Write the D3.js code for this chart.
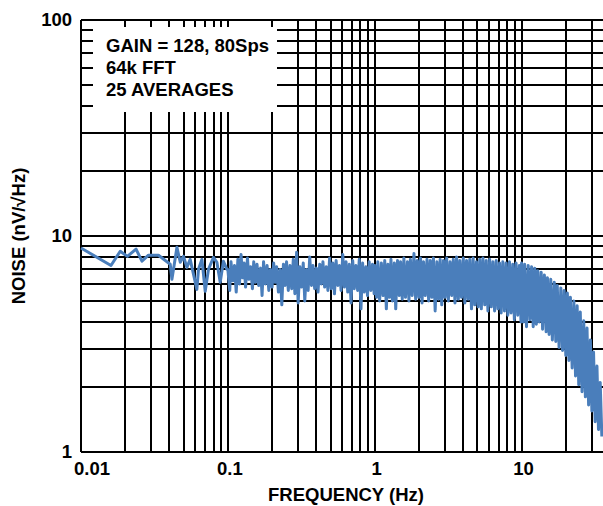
<!DOCTYPE html>
<html><head><meta charset="utf-8">
<script src="https://cdn.jsdelivr.net/npm/d3@7"></script>
<style>
body{margin:0;background:#fff}
svg text{font-family:"Liberation Sans",Arial,Helvetica,sans-serif;font-weight:bold;fill:#000}
</style>
</head><body>
<svg id="chart" width="603" height="506"></svg>
<script>
// ---- data ----
const xTickValues = [0.01,0.02,0.03,0.04,0.05,0.06,0.07,0.08,0.09,
                     0.1,0.2,0.3,0.4,0.5,0.6,0.7,0.8,0.9,
                     1,2,3,4,5,6,7,8,9,10,20,30];
const xLabelValues = [0.01,0.1,1,10];
const yTickValues = [1,2,3,4,5,6,7,8,9,10,20,30,40,50,60,70,80,90,100];
const yLabelValues = [1,10,100];
const legendLines = ["GAIN = 128, 80Sps","64k FFT","25 AVERAGES"];
const xTitle = "FREQUENCY (Hz)";
const yTitle = "NOISE (nV/\u221AHz)";

// sparse low-frequency part (Hz, nV/√Hz)
const lowFreqHz = [0.0100,0.0160,0.0185,0.0207,0.0237,0.0260,0.0288,0.0337,0.0405,0.0416,
                   0.0450,0.0474,0.0499,0.0526,0.0554,0.0615,0.0631,0.0666,0.0701,0.0738,
                   0.0798,0.0842,0.0887,0.0933,0.0985];
const lowNoise  = [8.8,7.3,8.5,8.05,8.7,7.65,8.15,8.15,7.4,6.3,
                   8.86,7.56,8.05,7.16,7.8,5.66,7.01,7.8,5.55,7.01,
                   7.97,7.56,6.1,7.64,7.01];

// frequency steps within a decade (mantissa)
const freqSteps = [1.00,1.03,1.05,1.08,1.11,1.14,1.17,1.20,1.23,1.26,1.29,1.32,1.36,1.39,1.43,
  1.47,1.50,1.54,1.58,1.62,1.67,1.71,1.75,1.80,1.85,1.90,1.95,2.00,2.05,2.10,2.15,2.21,2.27,
  2.33,2.39,2.45,2.51,2.58,2.65,2.72,2.79,2.86,2.94,3.01,3.09,3.17,3.26,3.34,3.43,3.52,3.61,
  3.71,3.80,3.90,4.01,4.11,4.22,4.33,4.44,4.56,4.68,4.80,4.93,5.06,5.19,5.32,5.46,5.61,5.75,
  5.90,6.06,6.22,6.38,6.55,6.72,6.90,7.08,7.26,7.45,7.65,7.85,8.06,8.27,8.48,8.71,8.93,9.17,
  9.41,9.66,9.91];

// 0.1 – 1 Hz
const noiseDecade01 = [
  7.0,5.6,7.6,6.2,7.3,5.5,7.8,6.0,8.2,6.4,
  7.5,5.8,7.9,6.3,7.2,5.7,7.6,6.1,7.4,5.9,
  7.1,5.3,7.6,6.0,7.3,5.6,7.0,5.8,7.5,6.1,
  7.2,5.5,7.0,4.8,7.4,5.9,7.6,5.6,7.3,5.7,
  7.8,5.4,8.4,4.9,7.2,5.8,7.5,5.0,7.0,5.6,
  8.0,5.9,7.3,5.7,7.1,5.5,7.4,6.0,7.6,5.8,
  7.2,5.6,7.9,5.7,7.5,5.4,7.7,5.9,7.3,5.6,
  8.2,5.8,7.6,5.5,7.4,4.9,7.7,5.7,7.3,5.6,
  7.8,4.6,7.5,5.5,7.2,5.3,7.6,5.6,7.4,5.4];
// 1 – 10 Hz
const noiseDecade1 = [
  7.3,5.2,7.6,5.0,7.5,5.3,7.7,4.6,7.4,5.2,
  7.8,5.0,7.5,4.6,7.7,5.3,7.6,5.1,7.9,5.2,
  7.6,5.0,7.8,5.3,8.3,5.1,7.7,5.2,7.9,4.9,
  7.6,5.3,7.8,5.0,7.7,5.2,7.9,4.5,7.6,5.1,
  7.8,4.8,7.7,5.2,7.9,5.0,7.6,5.3,7.8,4.9,
  8.0,5.1,7.7,5.2,7.9,4.9,7.7,5.1,7.8,4.6,
  7.9,4.8,7.6,4.7,7.8,4.6,7.9,4.8,7.7,4.5,
  7.8,4.7,7.6,4.5,7.7,4.6,7.5,4.4,7.6,4.5,
  7.5,4.3,7.6,4.4,7.4,4.1,7.5,4.3,7.3,4.0];
// 10 – 35 Hz
const noiseDecade10 = [
  7.5,4.0,7.4,3.8,7.3,4.1,7.2,3.8,7.1,3.9,
  6.9,4.0,6.8,3.7,6.6,3.6,6.4,3.5,6.3,3.3,
  6.1,3.25,5.9,3.05,5.75,2.95,5.6,2.8,5.45,2.65,
  5.2,2.45,5.0,2.25,4.75,2.05,4.45,1.9,4.05,1.8,
  3.75,1.65,3.3,1.55,2.9,1.38,2.5,1.27,2.1,1.18];

const series = [];
lowFreqHz.forEach((f,i)=>series.push([f, lowNoise[i]]));
noiseDecade01.forEach((v,i)=>series.push([0.1*freqSteps[i], v]));
noiseDecade1.forEach((v,i)=>series.push([1*freqSteps[i], v]));
noiseDecade10.forEach((v,i)=>series.push([10*freqSteps[i], v]));

// ---- chart ----
const svg = d3.select("#chart");
svg.append("rect").attr("width",603).attr("height",506).attr("fill","#fff");
const plotL = 81, plotR = 610, plotT = 20, plotB = 452;
const x = d3.scaleLog().domain([0.01,40]).range([plotL,plotR]);
const y = d3.scaleLog().domain([1,100]).range([plotB,plotT]);
const fmt = d3.format("~g");
const FS = "18.5px";

const gx = svg.append("g").attr("transform",`translate(0,${plotB})`)
  .call(d3.axisBottom(x).tickValues(xTickValues).tickSize(-(plotB-plotT)).tickSizeOuter(0)
    .offset(0).tickPadding(10).tickFormat(d=>xLabelValues.includes(d)?fmt(d):""));
const gy = svg.append("g").attr("transform",`translate(${plotL},0)`)
  .call(d3.axisLeft(y).tickValues(yTickValues).tickSize(-(plotR-plotL)).tickSizeOuter(0)
    .offset(0).tickPadding(9).tickFormat(d=>yLabelValues.includes(d)?fmt(d):""));
[gx,gy].forEach(g=>{
  g.attr("font-family",null).attr("font-size",null);
  g.selectAll("line").attr("stroke","#000").attr("stroke-width",2).attr("shape-rendering","crispEdges");
  g.select(".domain").attr("stroke","#000").attr("stroke-width",2).attr("shape-rendering","crispEdges");
  g.selectAll("text").attr("font-size",FS).attr("fill","#000");
});
gx.selectAll("text").attr("dx","2");
gx.selectAll(".tick").filter(d=>d===0.01).select("text").attr("text-anchor","start").attr("dx","-7");

// legend box
svg.append("rect").attr("x",93).attr("y",27).attr("width",184).attr("height",85).attr("fill","#fff");
svg.append("g").selectAll("text").data(legendLines).join("text")
  .attr("x",106).attr("y",(d,i)=>52+i*22).attr("font-size",FS).text(d=>d);

// curve
svg.append("path").datum(series)
  .attr("fill","none").attr("stroke","#4A7EBB").attr("stroke-width",3)
  .attr("stroke-linejoin","round")
  .attr("d",d3.line().x(d=>x(d[0])).y(d=>y(d[1])));

// titles
svg.append("text").attr("x",346).attr("y",501).attr("text-anchor","middle")
  .attr("font-size",FS).text(xTitle);
svg.append("text").attr("transform","translate(25,236) rotate(-90)").attr("text-anchor","middle")
  .attr("font-size",FS).text(yTitle);
</script>
</body></html>
